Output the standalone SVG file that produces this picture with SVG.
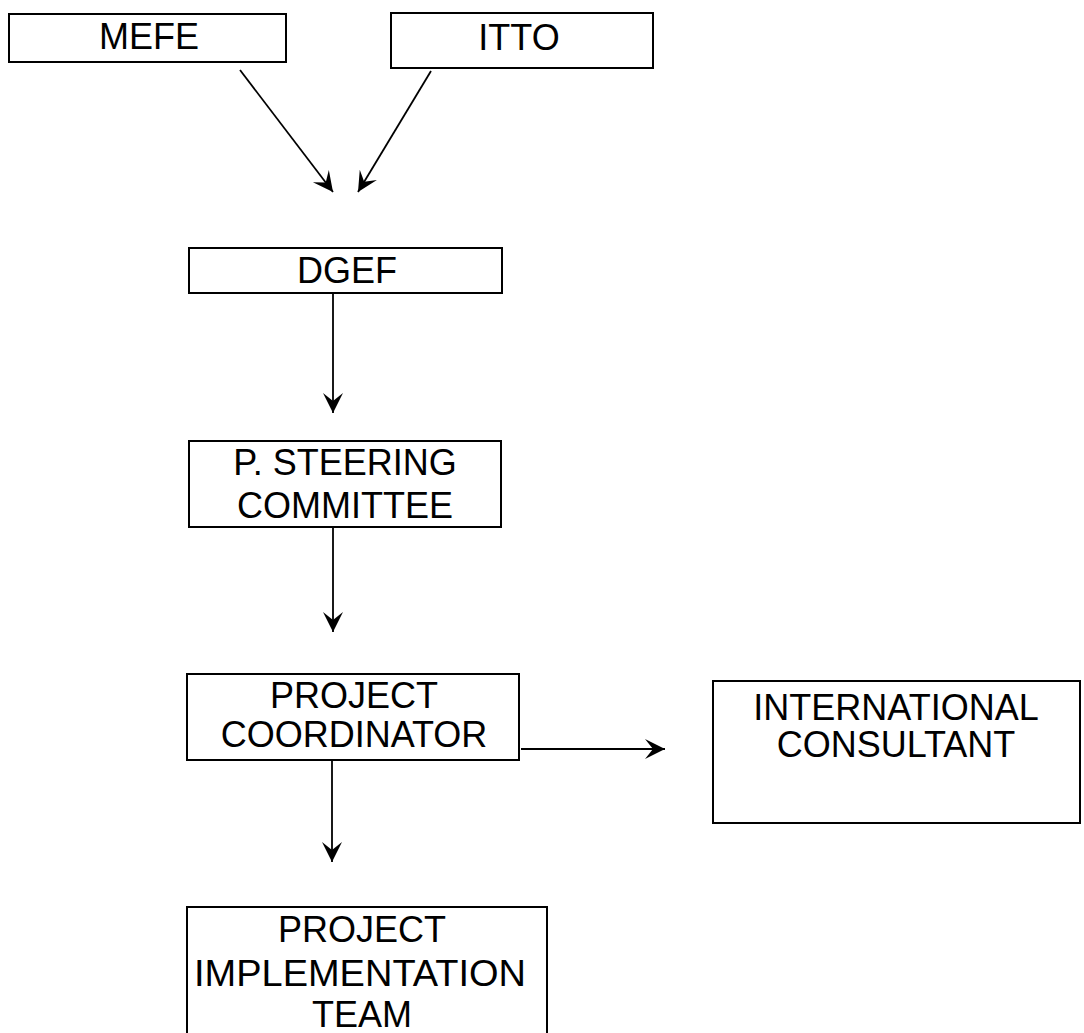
<svg xmlns="http://www.w3.org/2000/svg" width="1084" height="1033" viewBox="0 0 1084 1033">
<style>
.box{fill:#fff;stroke:#000;stroke-width:2}
.lbl{font-family:"Liberation Sans",Arial,sans-serif;font-size:36px;fill:#000;text-anchor:middle}
.con{stroke:#000;stroke-width:1.8;fill:none}
</style>
<defs>
<marker id="ah" markerUnits="userSpaceOnUse" markerWidth="22" markerHeight="22" refX="20" refY="10" orient="auto" viewBox="0 0 22 22">
<path d="M0,0 L20,10 L0,20 L8,10 z" fill="#000"/>
</marker>
</defs>
<rect width="1084" height="1033" fill="#fff"/>
<g id="connectors">
<line class="con" x1="240" y1="70" x2="333" y2="192" marker-end="url(#ah)"/>
<line class="con" x1="431" y1="71" x2="358" y2="192" marker-end="url(#ah)"/>
<line class="con" x1="333" y1="293" x2="333" y2="413" marker-end="url(#ah)"/>
<line class="con" x1="333" y1="527" x2="333" y2="632" marker-end="url(#ah)"/>
<line class="con" x1="521" y1="749" x2="665" y2="749" marker-end="url(#ah)"/>
<line class="con" x1="332" y1="760" x2="332" y2="862" marker-end="url(#ah)"/>
</g>
<g id="mefe"><rect class="box" x="9" y="14" width="277" height="48"/><text class="lbl" x="149" y="49">MEFE</text></g>
<g id="itto"><rect class="box" x="391" y="13" width="262" height="55"/><text class="lbl" x="519" y="50">ITTO</text></g>
<g id="dgef"><rect class="box" x="189" y="248" width="313" height="45"/><text class="lbl" x="347" y="283">DGEF</text></g>
<g id="steering"><rect class="box" x="189" y="441" width="312" height="86"/><text class="lbl" x="345" y="475">P. STEERING</text><text class="lbl" x="345" y="518">COMMITTEE</text></g>
<g id="coordinator"><rect class="box" x="187" y="674" width="332" height="86"/><text class="lbl" x="354" y="708">PROJECT</text><text class="lbl" x="354" y="747">COORDINATOR</text></g>
<g id="consultant"><rect class="box" x="713" y="681" width="367" height="142"/><text class="lbl" x="896" y="720">INTERNATIONAL</text><text class="lbl" x="896" y="757">CONSULTANT</text></g>
<g id="team"><rect class="box" x="187" y="907" width="360" height="140"/><text class="lbl" x="362" y="942">PROJECT</text><text class="lbl" x="360" y="986" textLength="332" lengthAdjust="spacingAndGlyphs">IMPLEMENTATION</text><text class="lbl" x="362" y="1027">TEAM</text></g>
</svg>
